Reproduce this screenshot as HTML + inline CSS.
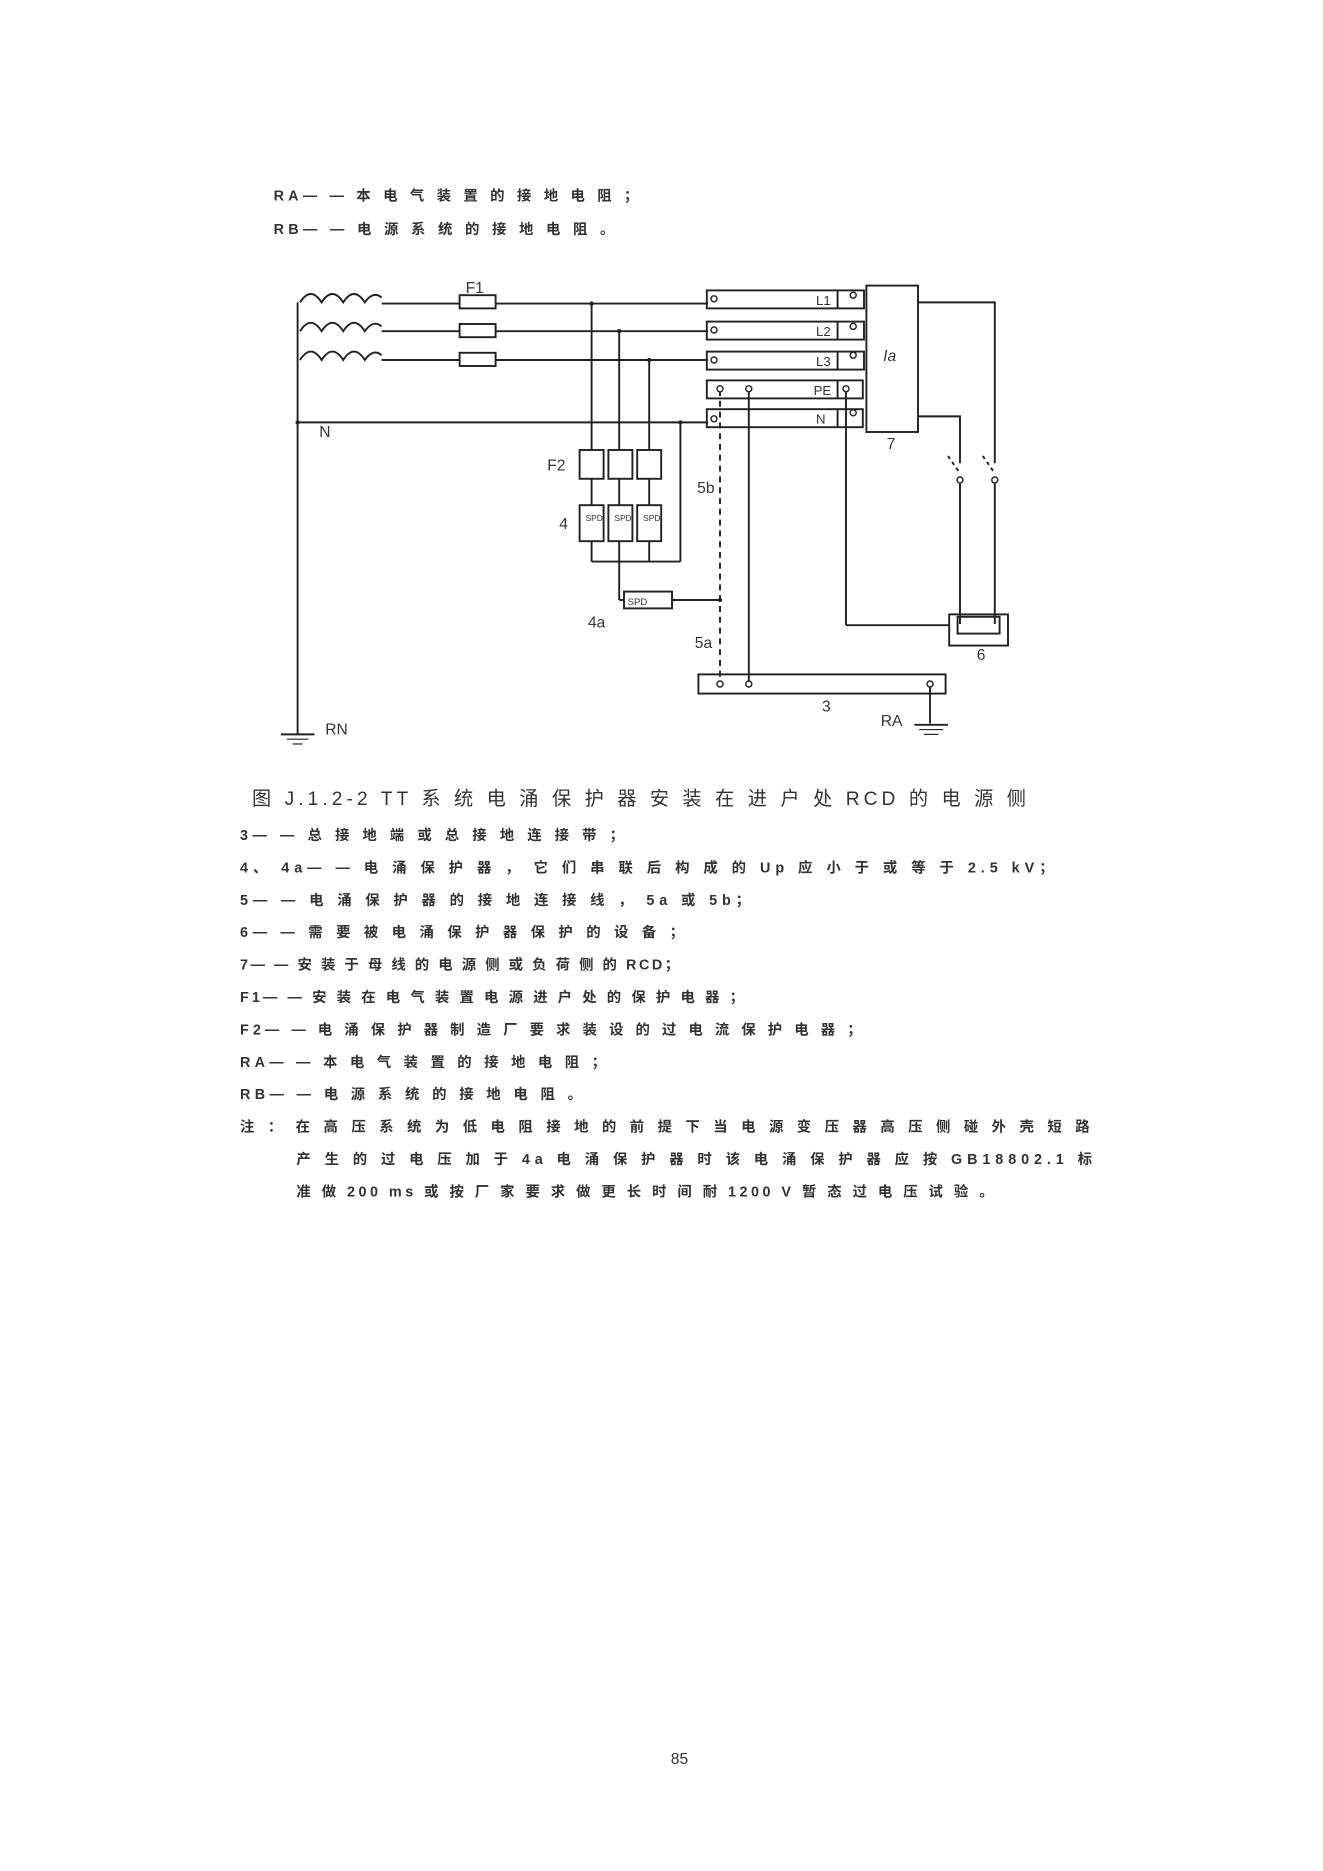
<!DOCTYPE html>
<html><head><meta charset="utf-8"><style>
html,body{margin:0;padding:0;background:#fff}
svg{display:block}
text{font-family:"Liberation Sans","Noto Sans CJK SC",sans-serif;fill:#333}
.t{font-size:12px;font-weight:bold}
.lb{font-family:"Liberation Serif","Noto Serif CJK SC",serif;font-size:13px;fill:#222}
</style></head><body>
<svg width="1323" height="1871" viewBox="0 0 1102.5 1559.2" xmlns="http://www.w3.org/2000/svg">
<g class="t">
<text x="228" y="167" textLength="304" lengthAdjust="spacing">RA— — 本 电 气 装 置 的 接 地 电 阻 ；</text>
<text x="228" y="195" textLength="284" lengthAdjust="spacing">RB— — 电 源 系 统 的 接 地 电 阻 。</text>
</g>
<g stroke="#222" stroke-width="1.6" fill="none">
<!-- coils -->
<path d="M250 252 q9 -14 18 0 q9 -14 18 0 q9 -14 18 0 q7 -10 14 -4"/>
<path d="M250 276 q9 -14 18 0 q9 -14 18 0 q9 -14 18 0 q7 -10 14 -4"/>
<path d="M250 300 q9 -14 18 0 q9 -14 18 0 q9 -14 18 0 q7 -10 14 -4"/>
<line x1="248" y1="252" x2="248" y2="612"/>
<line x1="318" y1="253" x2="590" y2="253"/>
<line x1="318" y1="276" x2="590" y2="276"/>
<line x1="318" y1="300" x2="590" y2="300"/>
<line x1="248" y1="352" x2="590" y2="352"/>
<!-- fuses -->
<rect x="383" y="246" width="30" height="11" fill="#fff"/>
<rect x="383" y="270" width="30" height="11" fill="#fff"/>
<rect x="383" y="294" width="30" height="11" fill="#fff"/>
<!-- ground RN -->
<line x1="234" y1="612" x2="262" y2="612"/><line x1="239" y1="616" x2="257" y2="616" stroke-width="1"/><line x1="244" y1="620" x2="252" y2="620" stroke-width="1"/>
<!-- terminal bars -->
<rect x="589" y="242" width="131" height="15"/>
<rect x="589" y="268" width="131" height="15"/>
<rect x="589" y="293" width="131" height="15"/>
<rect x="589" y="317" width="130" height="15"/>
<rect x="589" y="341" width="130" height="15"/>
<line x1="698" y1="242" x2="698" y2="257"/><line x1="698" y1="268" x2="698" y2="283"/><line x1="698" y1="293" x2="698" y2="308"/>
<line x1="698" y1="317" x2="698" y2="332"/><line x1="698" y1="341" x2="698" y2="356"/>
<!-- verticals to F2 -->
<line x1="493" y1="253" x2="493" y2="468"/>
<line x1="516" y1="276" x2="516" y2="500"/>
<line x1="541" y1="300" x2="541" y2="468"/>
<line x1="567" y1="352" x2="567" y2="468"/>
<line x1="493" y1="468" x2="567" y2="468"/>
<rect x="483" y="375" width="20" height="24" fill="#fff"/>
<rect x="507" y="375" width="20" height="24" fill="#fff"/>
<rect x="531" y="375" width="20" height="24" fill="#fff"/>
<rect x="483" y="421" width="20" height="30" fill="#fff"/>
<rect x="507" y="421" width="20" height="30" fill="#fff"/>
<rect x="531" y="421" width="20" height="30" fill="#fff"/>
<line x1="516" y1="500" x2="520" y2="500"/>
<rect x="520" y="493" width="40" height="14" fill="#fff"/>
<line x1="560" y1="500" x2="600" y2="500"/>
<!-- 5a/5b -->
<line x1="600" y1="325" x2="600" y2="570" stroke-dasharray="5,4"/>
<line x1="624" y1="325" x2="624" y2="570"/>
<line x1="705" y1="325" x2="705" y2="521"/>
<line x1="705" y1="521" x2="791" y2="521"/>
<!-- bar 3 -->
<rect x="582" y="562" width="206" height="16"/>
<line x1="775" y1="570" x2="775" y2="603"/>
<line x1="762" y1="604" x2="790" y2="604"/><line x1="766" y1="608" x2="786" y2="608" stroke-width="1"/><line x1="770" y1="612" x2="782" y2="612" stroke-width="1"/>
<!-- box 7 -->
<rect x="722" y="238" width="43" height="122" fill="#fff"/>
<polyline points="765,252 829,252 829,386"/>
<polyline points="765,347 800,347 800,386"/>
<line x1="790" y1="380" x2="799" y2="393" stroke-dasharray="3,3"/>
<line x1="819" y1="380" x2="828" y2="393" stroke-dasharray="3,3"/>
<line x1="800" y1="403" x2="800" y2="520"/>
<line x1="829" y1="403" x2="829" y2="520"/>
<rect x="791" y="512" width="49" height="26"/>
<rect x="798" y="514" width="35" height="14"/>
</g>
<g fill="#fff" stroke="#222" stroke-width="1.2">
<circle cx="595" cy="249" r="2.5"/><circle cx="595" cy="275" r="2.5"/><circle cx="595" cy="300" r="2.5"/><circle cx="595" cy="349" r="2.5"/>
<circle cx="711" cy="246" r="2.5"/><circle cx="711" cy="272" r="2.5"/><circle cx="711" cy="296" r="2.5"/><circle cx="711" cy="344" r="2.5"/>
<circle cx="600" cy="324" r="2.5"/><circle cx="624" cy="324" r="2.5"/><circle cx="705" cy="324" r="2.5"/>
<circle cx="600" cy="570" r="2.5"/><circle cx="624" cy="570" r="2.5"/><circle cx="775" cy="570" r="2.5"/>
<circle cx="800" cy="400" r="2.5"/><circle cx="829" cy="400" r="2.5"/>
</g>
<g fill="#222"><circle cx="493" cy="253" r="1.8"/><circle cx="516" cy="276" r="1.8"/><circle cx="541" cy="300" r="1.8"/><circle cx="567" cy="352" r="1.8"/><circle cx="248" cy="352" r="1.8"/><circle cx="600" cy="500" r="1.8"/></g>
<g class="lb">
<text x="388" y="244">F1</text>
<text x="680" y="254" font-size="11">L1</text><text x="680" y="280" font-size="11">L2</text><text x="680" y="305" font-size="11">L3</text><text x="678" y="329" font-size="11">PE</text><text x="680" y="353" font-size="11">N</text>
<text x="736" y="301" font-style="italic">Ia</text>
<text x="739" y="374">7</text>
<text x="266" y="364">N</text>
<text x="456" y="392">F2</text>
<text x="466" y="441">4</text>
<text x="581" y="411">5b</text>
<text x="490" y="523">4a</text>
<text x="579" y="540">5a</text>
<text x="685" y="593">3</text>
<text x="734" y="605">RA</text>
<text x="814" y="550">6</text>
<text x="271" y="612">RN</text>
<text x="523" y="504" font-size="8">SPD</text>
<text x="488" y="434" font-size="7">SPD</text><text x="512" y="434" font-size="7">SPD</text><text x="536" y="434" font-size="7">SPD</text>
</g>
<text x="210" y="671" font-size="16" textLength="645" lengthAdjust="spacing">图 J.1.2-2 TT 系 统 电 涌 保 护 器 安 装 在 进 户 处 RCD 的 电 源 侧</text>
<g class="t">
<text x="200" y="700" textLength="320" lengthAdjust="spacing">3— — 总 接 地 端 或 总 接 地 连 接 带 ；</text>
<text x="200" y="727" textLength="678" lengthAdjust="spacing">4、 4a— — 电 涌 保 护 器 ， 它 们 串 联 后 构 成 的 Up 应 小 于 或 等 于 2.5 kV；</text>
<text x="200" y="754" textLength="425" lengthAdjust="spacing">5— — 电 涌 保 护 器 的 接 地 连 接 线 ， 5a 或 5b；</text>
<text x="200" y="781" textLength="370" lengthAdjust="spacing">6— — 需 要 被 电 涌 保 护 器 保 护 的 设 备 ；</text>
<text x="200" y="808" textLength="366" lengthAdjust="spacing">7— — 安 装 于 母 线 的 电 源 侧 或 负 荷 侧 的 RCD；</text>
<text x="200" y="835" textLength="420" lengthAdjust="spacing">F1— — 安 装 在 电 气 装 置 电 源 进 户 处 的 保 护 电 器 ；</text>
<text x="200" y="862" textLength="518" lengthAdjust="spacing">F2— — 电 涌 保 护 器 制 造 厂 要 求 装 设 的 过 电 流 保 护 电 器 ；</text>
<text x="200" y="889" textLength="305" lengthAdjust="spacing">RA— — 本 电 气 装 置 的 接 地 电 阻 ；</text>
<text x="200" y="916" textLength="285" lengthAdjust="spacing">RB— — 电 源 系 统 的 接 地 电 阻 。</text>
<text x="200" y="943" textLength="708" lengthAdjust="spacing">注 ： 在 高 压 系 统 为 低 电 阻 接 地 的 前 提 下 当 电 源 变 压 器 高 压 侧 碰 外 壳 短 路</text>
<text x="247" y="970" textLength="663" lengthAdjust="spacing">产 生 的 过 电 压 加 于 4a 电 涌 保 护 器 时 该 电 涌 保 护 器 应 按 GB18802.1 标</text>
<text x="247" y="997" textLength="581" lengthAdjust="spacing">准 做 200 ms 或 按 厂 家 要 求 做 更 长 时 间 耐 1200 V 暂 态 过 电 压 试 验 。</text>
</g>
<text x="559" y="1470" font-size="13" fill="#000">85</text>
</svg>
</body></html>
